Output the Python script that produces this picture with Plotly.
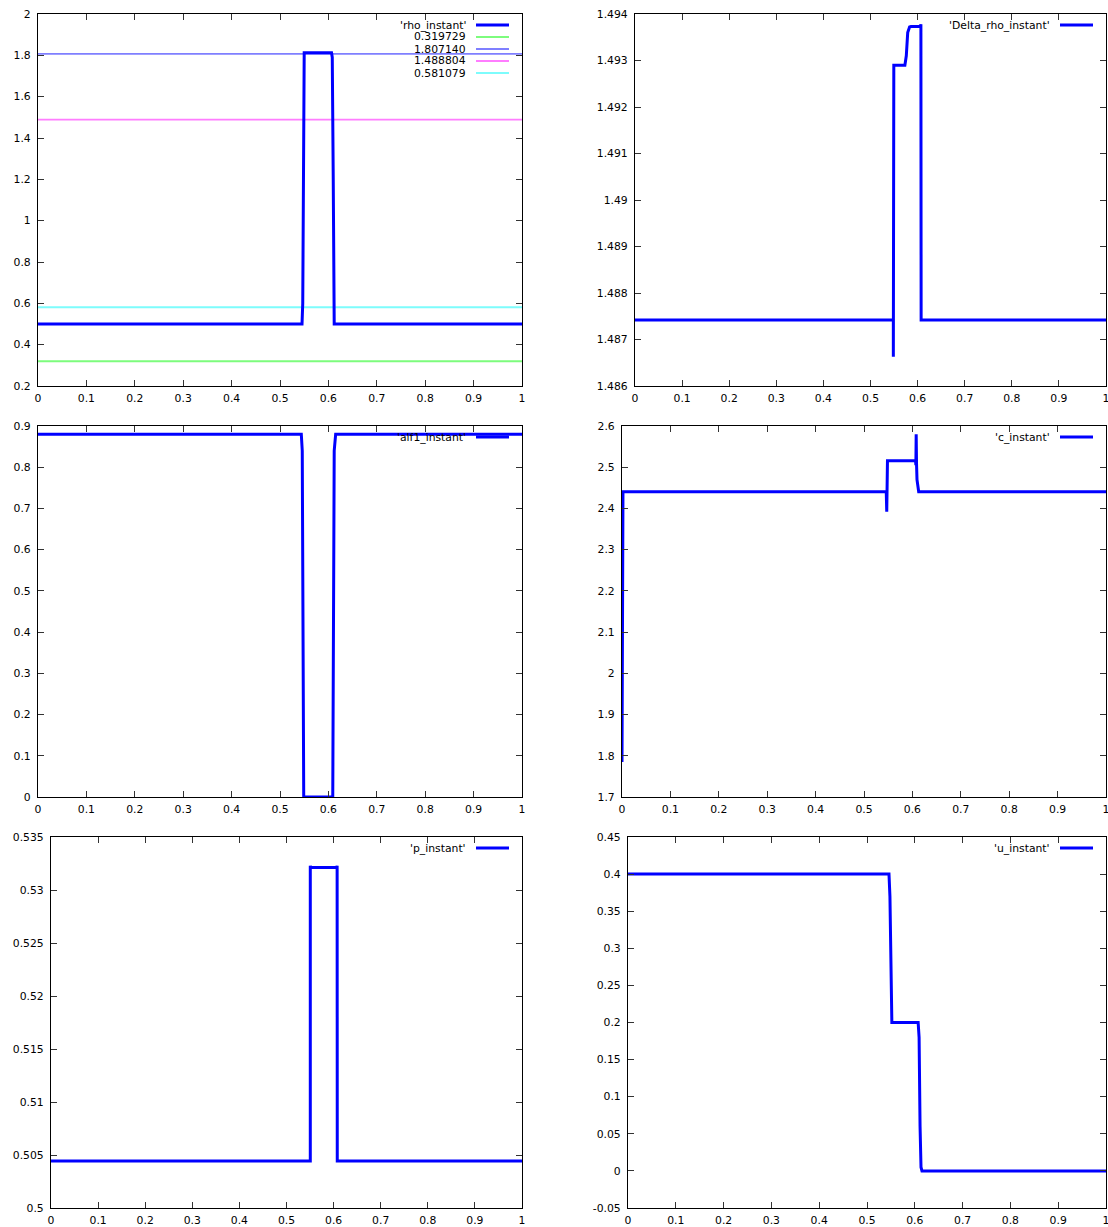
import plotly.graph_objects as go

# ---------------- data ----------------
x_ticks = [0, 0.1, 0.2, 0.3, 0.4, 0.5, 0.6, 0.7, 0.8, 0.9, 1]
x_tick_labels = ["0", "0.1", "0.2", "0.3", "0.4", "0.5", "0.6", "0.7", "0.8", "0.9", "1"]

rho_x = [0, 0.5455, 0.547, 0.550, 0.6065, 0.608, 0.610, 0.612, 1]
rho_y = [0.5, 0.5, 0.6, 1.812, 1.812, 1.79, 1.2, 0.5, 0.5]
rho_levels = [0.319729, 1.807140, 1.488804, 0.581079]
rho_level_colors = ["#7dfc7d", "#7f7fff", "#ff7dff", "#7dfcfc"]
rho_yticks = [0.2, 0.4, 0.6, 0.8, 1.0, 1.2, 1.4, 1.6, 1.8, 2.0]
rho_ylabels = ["0.2", "0.4", "0.6", "0.8", "1", "1.2", "1.4", "1.6", "1.8", "2"]

drho_x = [0, 0.5485, 0.5485, 0.5490, 0.5495, 0.573, 0.576, 0.579, 0.583, 0.586, 0.606, 0.607, 0.6075, 1]
drho_y = [1.48742, 1.48742, 1.48663, 1.49288, 1.49290, 1.49290, 1.4931, 1.4936, 1.49372, 1.49373, 1.49373, 1.49378, 1.48742, 1.48742]
drho_yticks = [1.486, 1.487, 1.488, 1.489, 1.490, 1.491, 1.492, 1.493, 1.494]
drho_ylabels = ["1.486", "1.487", "1.488", "1.489", "1.49", "1.491", "1.492", "1.493", "1.494"]

alf_x = [0, 0.544, 0.546, 0.5475, 0.549, 0.609, 0.6105, 0.612, 0.615, 1]
alf_y = [0.88, 0.88, 0.84, 0.5, 0.0, 0.0, 0.5, 0.84, 0.88, 0.88]
alf_yticks = [0, 0.1, 0.2, 0.3, 0.4, 0.5, 0.6, 0.7, 0.8, 0.9]
alf_ylabels = ["0", "0.1", "0.2", "0.3", "0.4", "0.5", "0.6", "0.7", "0.8", "0.9"]

c_x = [0, 0.002, 0.546, 0.547, 0.5485, 0.550, 0.6065, 0.6072, 0.6078, 0.6085, 0.6095, 0.613, 1]
c_y = [1.785, 2.4405, 2.4405, 2.392, 2.516, 2.516, 2.516, 2.505, 2.58, 2.51, 2.47, 2.4405, 2.4405]
c_yticks = [1.7, 1.8, 1.9, 2.0, 2.1, 2.2, 2.3, 2.4, 2.5, 2.6]
c_ylabels = ["1.7", "1.8", "1.9", "2", "2.1", "2.2", "2.3", "2.4", "2.5", "2.6"]

p_x = [0, 0.5505, 0.5505, 0.5515, 0.6065, 0.6075, 0.6078, 1]
p_y = [0.50443, 0.50443, 0.53228, 0.53212, 0.53212, 0.53228, 0.50443, 0.50443]
p_yticks = [0.5, 0.505, 0.51, 0.515, 0.52, 0.525, 0.53, 0.535]
p_ylabels = ["0.5", "0.505", "0.51", "0.515", "0.52", "0.525", "0.53", "0.535"]

u_x = [0, 0.546, 0.548, 0.550, 0.552, 0.607, 0.609, 0.611, 0.613, 0.615, 1]
u_y = [0.4, 0.4, 0.37, 0.25, 0.2, 0.2, 0.18, 0.06, 0.005, 0.0, 0.0]
u_yticks = [-0.05, 0, 0.05, 0.1, 0.15, 0.2, 0.25, 0.3, 0.35, 0.4, 0.45]
u_ylabels = ["-0.05", "0", "0.05", "0.1", "0.15", "0.2", "0.25", "0.3", "0.35", "0.4", "0.45"]

# ---------------- layout helpers ----------------
W, H = 1108, 1227
FONT = "DejaVu Sans"
FS = 10.8
BLUE = "#0000ff"

# panel pixel boxes: left, right, top, bottom
panels = [
    dict(box=(38, 522, 14, 386), yr=(0.2, 2.0), yt=rho_yticks, yl=rho_ylabels),
    dict(box=(635, 1106, 14, 386), yr=(1.486, 1.494), yt=drho_yticks, yl=drho_ylabels),
    dict(box=(38, 522, 426, 797), yr=(0.0, 0.9), yt=alf_yticks, yl=alf_ylabels),
    dict(box=(622, 1106, 426, 797), yr=(1.7, 2.6), yt=c_yticks, yl=c_ylabels),
    dict(box=(51, 522, 837, 1208), yr=(0.5, 0.535), yt=p_yticks, yl=p_ylabels),
    dict(box=(628, 1106, 837, 1208), yr=(-0.05, 0.45), yt=u_yticks, yl=u_ylabels),
]

def px(xp):
    return xp / W

def py(yp):
    return 1 - yp / H

fig = go.Figure()
layout = dict(
    width=W, height=H,
    autosize=False,
    margin=dict(l=0, r=0, t=0, b=0, pad=0, autoexpand=False),
    paper_bgcolor="white", plot_bgcolor="white",
    showlegend=False,
    font=dict(family=FONT, size=FS, color="black"),
)
shapes = []
annotations = []

for i, p in enumerate(panels, start=1):
    l, r, t, b = p["box"]
    xa = "xaxis" if i == 1 else f"xaxis{i}"
    ya = "yaxis" if i == 1 else f"yaxis{i}"
    common = dict(
        showline=True, linecolor="black", linewidth=1.2, mirror="allticks",
        ticks="inside", ticklen=6, tickwidth=1, tickcolor="#333333",
        showgrid=False, zeroline=False, automargin=False,
        ticklabeloverflow="allow",
        tickfont=dict(family=FONT, size=FS, color="black"),
    )
    layout[xa] = dict(domain=[px(l), px(r)], range=[0, 1], anchor=f"y{i}" if i > 1 else "y",
                      tickmode="array", tickvals=x_ticks, ticktext=x_tick_labels,
                      ticklabelstandoff=2, **common)
    layout[ya] = dict(domain=[py(b), py(t)], range=list(p["yr"]), anchor=f"x{i}" if i > 1 else "x",
                      tickmode="array", tickvals=p["yt"], ticktext=p["yl"],
                      ticklabelstandoff=4, **common)

def axis_refs(i):
    return ("x" if i == 1 else f"x{i}", "y" if i == 1 else f"y{i}")

def add_legend(i, entries):
    l, r, t, b = panels[i - 1]["box"]
    for k, (text, color, width) in enumerate(entries):
        yy = t + 11 + 12 * k
        annotations.append(dict(
            x=px(r - 54), y=py(yy), xref="paper", yref="paper",
            text=text, showarrow=False, xanchor="right", yanchor="middle",
            font=dict(family=FONT, size=FS, color="black"),
        ))
        shapes.append(dict(
            type="line", xref="paper", yref="paper",
            x0=px(r - 46), x1=px(r - 13), y0=py(yy), y1=py(yy),
            line=dict(color=color, width=width),
        ))

# panel 1: rho
xr, yr = axis_refs(1)
for lev, col in zip(rho_levels, rho_level_colors):
    fig.add_trace(go.Scatter(x=[0, 1], y=[lev, lev], mode="lines",
                             line=dict(color=col, width=1.8), xaxis=xr, yaxis=yr))
fig.add_trace(go.Scatter(x=rho_x, y=rho_y, mode="lines",
                         line=dict(color=BLUE, width=3), xaxis=xr, yaxis=yr))
add_legend(1, [("'rho_instant'", BLUE, 3)] +
           [("%f" % lev, col, 1.8) for lev, col in zip(rho_levels, rho_level_colors)])

series = [
    (2, drho_x, drho_y, "'Delta_rho_instant'"),
    (3, alf_x, alf_y, "'alf1_instant'"),
    (4, c_x, c_y, "'c_instant'"),
    (5, p_x, p_y, "'p_instant'"),
    (6, u_x, u_y, "'u_instant'"),
]
for i, xs, ys, name in series:
    xr, yr = axis_refs(i)
    fig.add_trace(go.Scatter(x=xs, y=ys, mode="lines",
                             line=dict(color=BLUE, width=3), xaxis=xr, yaxis=yr))
    add_legend(i, [(name, BLUE, 3)])

layout["shapes"] = shapes
layout["annotations"] = annotations
fig.update_layout(**layout)
fig.write_html(
    "out.html",
    config={"displayModeBar": False, "responsive": False},
    post_script="document.body.style.margin='0';document.body.style.padding='0';"
                "document.documentElement.style.overflow='hidden';",
)
